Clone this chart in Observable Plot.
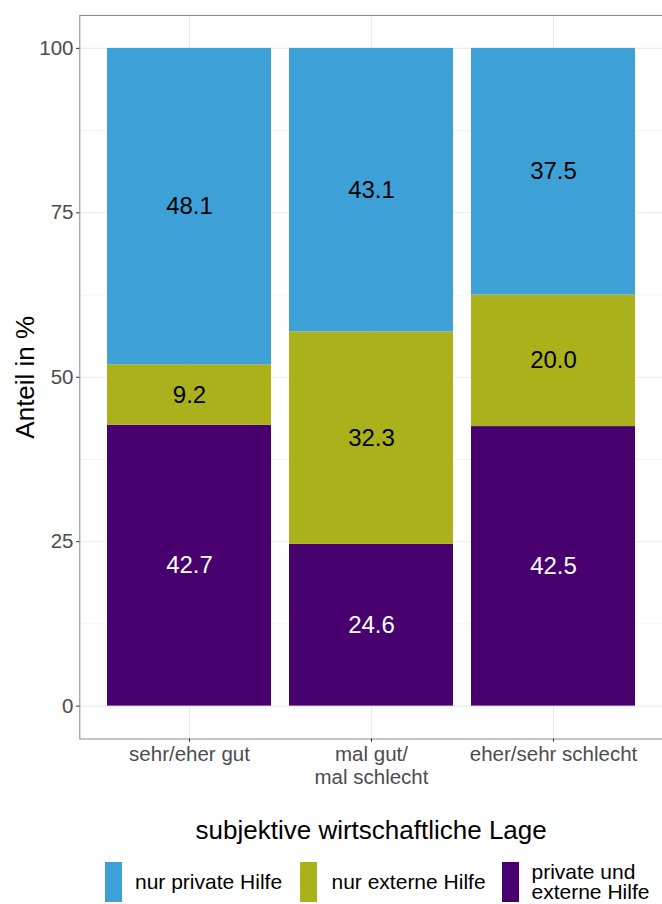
<!DOCTYPE html>
<html>
<head>
<meta charset="utf-8">
<script src="https://cdn.jsdelivr.net/npm/d3@7"></script>
<script src="https://cdn.jsdelivr.net/npm/@observablehq/plot@0.6"></script>
<style>
  body { margin: 0; background: #fff; font-family: "Liberation Sans", Arial, sans-serif; }
  #chart svg { display: block; }
  #legend { position: relative; width: 662px; height: 54px; }
  .key { position: absolute; top: 12px; width: 17px; height: 40px; }
  .lab { position: absolute; top: 12px; height: 40px; display: flex; align-items: center;
         font-size: 21px; line-height: 20px; color: #000; white-space: pre; }
</style>
</head>
<body>
<div id="chart"></div>
<div id="legend"></div>
<script>
// ---- data ----
const categories = ["sehr/eher gut", "mal gut/\nmal schlecht", "eher/sehr schlecht"];
const series = ["private und externe Hilfe", "nur externe Hilfe", "nur private Hilfe"]; // bottom -> top
const privateUndExterneHilfe = [42.7, 24.6, 42.5];
const nurExterneHilfe = [9.2, 32.3, 20.0];
const nurPrivateHilfe = [48.1, 43.1, 37.5];
const yTicks = [0, 25, 50, 75, 100];
const yMinorTicks = [12.5, 37.5, 62.5, 87.5];
const legendSeries = ["nur private Hilfe", "nur externe Hilfe", "private und externe Hilfe"];
const legendLabels = ["nur private Hilfe", "nur externe Hilfe", "private und\nexterne Hilfe"];
const xTitle = "subjektive wirtschaftliche Lage";
const yTitle = "Anteil in %";

// ---- styles ----
const seriesColors = ["#48006F", "#AAB11A", "#3DA0D6"];
const labelColors = ["#FFFFFF", "#000000", "#000000"];

const valuesBySeries = [privateUndExterneHilfe, nurExterneHilfe, nurPrivateHilfe];
const rows = [];
categories.forEach((cat, i) => {
  series.forEach((s, j) => rows.push({cat, series: s, value: valuesBySeries[j][i]}));
});
const colorOf = s => seriesColors[series.indexOf(s)];
const labelColorOf = s => labelColors[series.indexOf(s)];
const fmt = d3.format(".1f");

const chart = Plot.plot({
  width: 662,
  height: 850,
  marginTop: 15,
  marginBottom: 111.5,
  marginLeft: 79.3,
  marginRight: 0,
  style: {fontFamily: "'Liberation Sans', Arial, sans-serif", background: "white"},
  x: {domain: categories, paddingInner: 0.1, paddingOuter: 0.15, label: null},
  y: {domain: [-5, 105], label: null},
  color: {type: "identity"},
  marks: [
    Plot.gridY(yMinorTicks, {stroke: "#EBEBEB", strokeOpacity: 1, strokeWidth: 0.6}),
    Plot.gridY(yTicks, {stroke: "#EBEBEB", strokeOpacity: 1, strokeWidth: 1.1}),
    Plot.gridX(categories, {stroke: "#EBEBEB", strokeOpacity: 1, strokeWidth: 1.1}),
    Plot.barY(rows, Plot.stackY({
      x: "cat", y: "value", z: "series", order: series,
      fill: d => colorOf(d.series)
    })),
    Plot.text(rows, Plot.stackY({
      x: "cat", y: "value", z: "series", order: series,
      text: d => fmt(d.value),
      fill: d => labelColorOf(d.series),
      fontSize: 24
    })),
    Plot.frame({stroke: "#888888", strokeWidth: 1}),
    Plot.axisY(yTicks, {
      tickSize: 3.3, tickPadding: 3, fontSize: 20.5,
      stroke: "#333333", fill: "#4D4D4D", label: null
    }),
    Plot.axisX({
      tickSize: 3.3, tickPadding: 2, fontSize: 20.5, lineHeight: 1.12,
      stroke: "#333333", fill: "#4D4D4D", label: null
    }),
    Plot.text([yTitle], {
      frameAnchor: "left", text: d => d, rotate: -90, dx: -54,
      textAnchor: "middle", lineAnchor: "middle", fontSize: 26, fill: "#000"
    }),
    Plot.text([xTitle], {
      frameAnchor: "bottom", text: d => d, dy: 91.5,
      textAnchor: "middle", lineAnchor: "middle", fontSize: 26, fill: "#000"
    })
  ]
});
document.getElementById("chart").appendChild(chart);

// ---- legend (below the SVG) ----
const legend = document.getElementById("legend");
const keyLeft = [105, 300, 502];
const labLeft = [135, 331.5, 531.5];
legendSeries.forEach((s, i) => {
  const k = document.createElement("div");
  k.className = "key";
  k.style.left = keyLeft[i] + "px";
  k.style.background = colorOf(s);
  legend.appendChild(k);
  const l = document.createElement("div");
  l.className = "lab";
  l.style.left = labLeft[i] + "px";
  l.textContent = legendLabels[i];
  legend.appendChild(l);
});
</script>
</body>
</html>
